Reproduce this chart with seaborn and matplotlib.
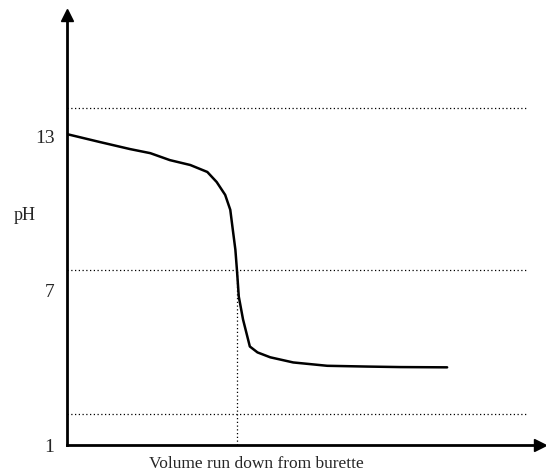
import numpy as np
import pandas as pd
import seaborn as sns
import matplotlib.pyplot as plt

# titration curve (volume in arbitrary units, pH)
volume = [0, 3.9, 7.4, 9.8, 12.1, 14.5, 16.5, 17.6, 18.6, 19.2, 19.5, 19.8, 20.0,
          20.2, 20.7, 21.5, 22.4, 23.9, 26.6, 30.6, 35.3, 39.2, 44.7]
ph = [13.08, 12.77, 12.50, 12.34, 12.07, 11.88, 11.61, 11.22, 10.72, 10.14, 9.36, 8.59,
      7.73, 6.77, 5.88, 4.83, 4.60, 4.41, 4.21, 4.08, 4.05, 4.03, 4.02]

guide_levels = [14.1, 7.8, 2.2]
equivalence_volume = 20.0
equivalence_ph = 7.75
ytick_values = [1, 7, 13]
ytick_labels = ['1', '7', '13']

df = pd.DataFrame({'volume': volume, 'pH': ph})

sns.set_style('white')
plt.rcParams['font.family'] = ['Liberation Serif', 'DejaVu Serif']

fig = plt.figure(figsize=(5.46, 4.75), dpi=100)
ax = fig.add_axes([0.1227, 0.063, 0.866, 0.905])

sns.lineplot(data=df, x='volume', y='pH', ax=ax, color='black', linewidth=1.8,
             sort=False, estimator=None)
for ln in ax.lines:
    ln.set_solid_joinstyle('round')
    ln.set_solid_capstyle('round')

for lvl in guide_levels:
    ax.plot([0, 54], [lvl, lvl], color='black', linewidth=0.9, linestyle=(0, (1, 2)))
ax.plot([equivalence_volume, equivalence_volume], [1.0, equivalence_ph], color='black',
        linewidth=0.9, linestyle=(0, (1, 2)))

ax.set_xlim(0, 55.6)
ax.set_ylim(1.0, 17.7)
ax.set_xticks([])
ax.set_yticks(ytick_values)
ax.set_yticklabels(ytick_labels, fontsize=14)
ax.tick_params(axis='y', length=0, pad=9)
ax.set_xlabel('')
ax.set_ylabel('')

for side in ['top', 'right']:
    ax.spines[side].set_visible(False)
for side in ['left', 'bottom']:
    ax.spines[side].set_color('black')
    ax.spines[side].set_linewidth(2)

# arrow heads on the axes
ax.plot(1, 0, '>', color='black', markersize=8, transform=ax.transAxes, clip_on=False)
ax.plot(0, 1, '^', color='black', markersize=9, transform=ax.transAxes, clip_on=False)

ax.text(-0.09, 9.9, 'pH', transform=ax.get_yaxis_transform(), fontsize=13,
        ha='center', va='center')
ax.text(0.40, -0.045, 'Volume run down from burette', transform=ax.transAxes,
        fontsize=12.5, ha='center', va='center')

fig.savefig('out.png', dpi=100)
